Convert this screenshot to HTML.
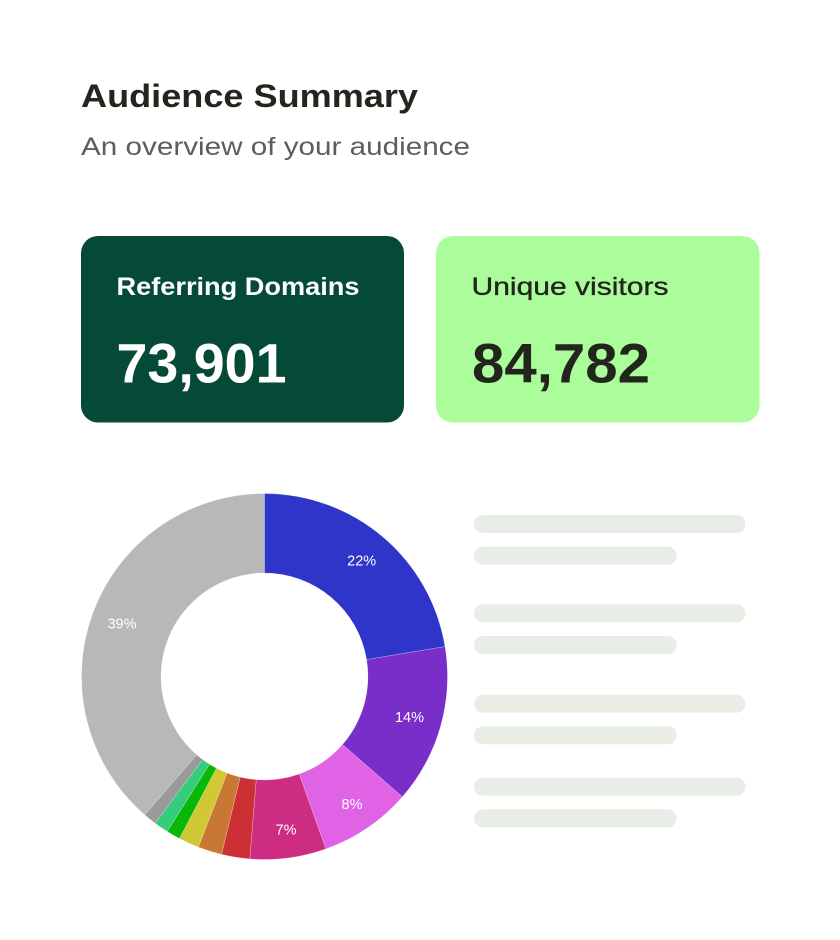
<!DOCTYPE html>
<html>
<head>
<meta charset="utf-8">
<style>
  html, body { margin:0; padding:0; background:#ffffff; }
  body { width:840px; height:940px; overflow:hidden; }
  svg { display:block; }
  text { font-family: "Liberation Sans", "DejaVu Sans", sans-serif; }
</style>
</head>
<body>
<svg width="840" height="940" viewBox="0 0 840 940" xmlns="http://www.w3.org/2000/svg">
  <rect x="0" y="0" width="840" height="940" fill="#ffffff"/>

  <!-- Header -->
  <text x="81" y="107" font-size="32" font-weight="bold" fill="#23261d" textLength="337" lengthAdjust="spacingAndGlyphs">Audience Summary</text>
  <text x="81" y="155" font-size="25" fill="#5b5f59" textLength="389" lengthAdjust="spacingAndGlyphs">An overview of your audience</text>

  <!-- Card 1 -->
  <rect x="81" y="236" width="323" height="186.5" rx="17" ry="17" fill="#044a37"/>
  <text x="116.5" y="295" font-size="25" font-weight="bold" fill="#ffffff" textLength="243" lengthAdjust="spacingAndGlyphs">Referring Domains</text>
  <text x="116.5" y="382.5" font-size="56" font-weight="bold" fill="#ffffff" textLength="170" lengthAdjust="spacingAndGlyphs">73,901</text>

  <!-- Card 2 -->
  <rect x="436" y="236" width="323.5" height="186.5" rx="17" ry="17" fill="#abfd9c"/>
  <text x="471.5" y="295" font-size="25" fill="#22251c" stroke="#22251c" stroke-width="0.35" textLength="197" lengthAdjust="spacingAndGlyphs">Unique visitors</text>
  <text x="472" y="382.5" font-size="56" font-weight="bold" fill="#22251c" textLength="178" lengthAdjust="spacingAndGlyphs">84,782</text>

  <!-- Donut -->
  <g stroke="#ffffff" stroke-width="0.4" stroke-opacity="0.6">
    <path d="M264.5,493.5 A183,183 0 0 1 445.04,646.61 L366.61,659.6 A103.5,103.5 0 0 0 264.5,573 Z" fill="#2e35c8"/>
    <path d="M445.04,646.61 A183,183 0 0 1 402.37,796.84 L342.47,744.56 A103.5,103.5 0 0 0 366.61,659.6 Z" fill="#7a2ec9"/>
    <path d="M402.37,796.84 A183,183 0 0 1 325.89,848.9 L299.22,774.0 A103.5,103.5 0 0 0 342.47,744.56 Z" fill="#e063e6"/>
    <path d="M325.89,848.9 A183,183 0 0 1 249.82,858.91 L256.2,779.67 A103.5,103.5 0 0 0 299.22,774.0 Z" fill="#cc2d82"/>
    <path d="M249.82,858.91 A183,183 0 0 1 221.47,854.37 L240.16,777.1 A103.5,103.5 0 0 0 256.2,779.67 Z" fill="#cc3034"/>
    <path d="M221.47,854.37 A183,183 0 0 1 198.32,847.11 L227.07,773.0 A103.5,103.5 0 0 0 240.16,777.1 Z" fill="#c97833"/>
    <path d="M198.32,847.11 A183,183 0 0 1 179.43,838.53 L216.39,768.14 A103.5,103.5 0 0 0 227.07,773.0 Z" fill="#d0c935"/>
    <path d="M179.43,838.53 A183,183 0 0 1 167.25,831.52 L209.5,764.18 A103.5,103.5 0 0 0 216.39,768.14 Z" fill="#07b808"/>
    <path d="M167.25,831.52 A183,183 0 0 1 155.13,823.23 L202.65,759.48 A103.5,103.5 0 0 0 209.5,764.18 Z" fill="#35cc7b"/>
    <path d="M155.13,823.23 A183,183 0 0 1 144.68,814.82 L196.73,754.73 A103.5,103.5 0 0 0 202.65,759.48 Z" fill="#9a9a9a"/>
    <path d="M144.68,814.82 A183,183 0 0 1 264.5,493.5 L264.5,573 A103.5,103.5 0 0 0 196.73,754.73 Z" fill="#b8b8b8"/>
  </g>

  <!-- Donut labels -->
  <g font-size="14.5" fill="#ffffff" text-anchor="middle">
    <text x="361.7" y="565.5">22%</text>
    <text x="409.5" y="722">14%</text>
    <text x="352" y="809">8%</text>
    <text x="286" y="834.5">7%</text>
    <text x="122" y="628.5">39%</text>
  </g>

  <!-- Placeholder bars -->
  <g fill="#e8ede6">
    <rect x="474" y="515" width="271.5" height="18" rx="9" ry="9"/>
    <rect x="474" y="546.7" width="202.7" height="18" rx="9" ry="9"/>
    <rect x="474" y="604.3" width="271.5" height="18" rx="9" ry="9"/>
    <rect x="474" y="636" width="202.7" height="18" rx="9" ry="9"/>
    <rect x="474" y="694.7" width="271.5" height="18" rx="9" ry="9"/>
    <rect x="474" y="726.3" width="202.7" height="18" rx="9" ry="9"/>
    <rect x="474" y="777.7" width="271.5" height="18" rx="9" ry="9"/>
    <rect x="474" y="809.3" width="202.7" height="18" rx="9" ry="9"/>
  </g>
</svg>
</body>
</html>
